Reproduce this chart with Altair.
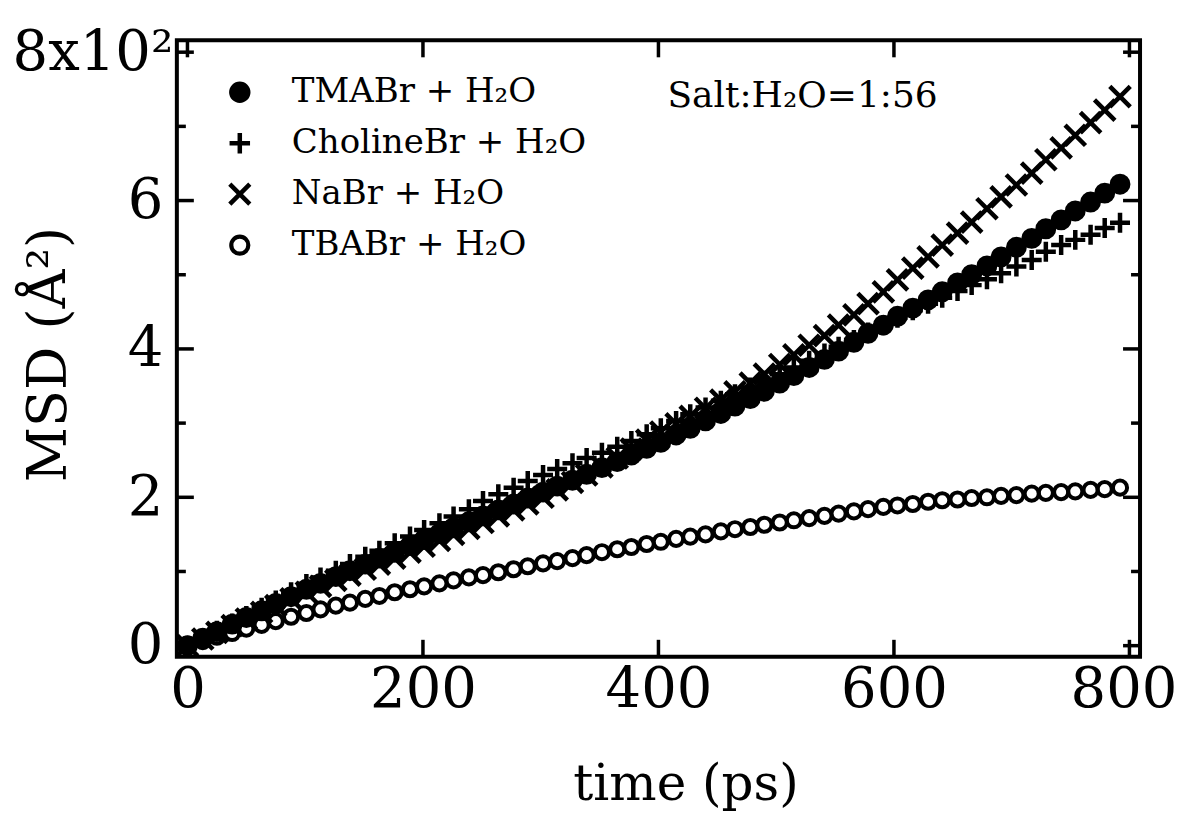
import altair as alt
import pandas as pd

# ---- data (MSD in units of 10^2 Å^2, time in ps) ----
times = [0, 13, 25, 38, 50, 63, 75, 88, 101, 113, 126, 138, 151, 163, 176, 189,
         201, 214, 226, 239, 251, 264, 277, 289, 302, 314, 327, 339, 352, 365, 377, 390,
         402, 415, 427, 440, 453, 465, 478, 490, 503, 515, 528, 541, 553, 566, 578, 591,
         603, 616, 629, 641, 654, 666, 679, 691, 704, 717, 729, 742, 754, 767, 779, 792]

tmabr = [0, 0.10, 0.19, 0.29, 0.38, 0.47, 0.57, 0.66, 0.76, 0.84, 0.93, 1.01, 1.10, 1.18, 1.26, 1.35,
         1.43, 1.51, 1.59, 1.67, 1.75, 1.83, 1.91, 1.99, 2.07, 2.15, 2.23, 2.31, 2.40, 2.48, 2.57, 2.66,
         2.74, 2.84, 2.93, 3.03, 3.13, 3.23, 3.33, 3.43, 3.54, 3.64, 3.75, 3.86, 3.97, 4.09, 4.21, 4.32,
         4.44, 4.55, 4.66, 4.77, 4.89, 5.00, 5.12, 5.24, 5.37, 5.49, 5.62, 5.74, 5.86, 5.98, 6.10, 6.22]

choline = [0, 0.10, 0.20, 0.30, 0.40, 0.51, 0.61, 0.72, 0.83, 0.92, 1.01, 1.10, 1.20, 1.28, 1.38, 1.47,
           1.56, 1.65, 1.74, 1.84, 1.95, 2.04, 2.13, 2.22, 2.30, 2.38, 2.46, 2.53, 2.60, 2.68, 2.76, 2.85,
           2.93, 3.03, 3.12, 3.21, 3.30, 3.39, 3.48, 3.57, 3.66, 3.75, 3.84, 3.94, 4.03, 4.12, 4.22, 4.32,
           4.42, 4.52, 4.61, 4.69, 4.78, 4.86, 4.94, 5.02, 5.11, 5.20, 5.31, 5.40, 5.47, 5.54, 5.63, 5.70]

nabr = [0, 0.09, 0.18, 0.27, 0.36, 0.45, 0.54, 0.63, 0.72, 0.80, 0.88, 0.95, 1.03, 1.10, 1.18, 1.26,
        1.34, 1.42, 1.50, 1.58, 1.66, 1.75, 1.83, 1.91, 2.00, 2.10, 2.20, 2.30, 2.41, 2.53, 2.65, 2.77,
        2.88, 2.99, 3.09, 3.20, 3.31, 3.42, 3.54, 3.66, 3.79, 3.92, 4.05, 4.18, 4.32, 4.46, 4.61, 4.77,
        4.93, 5.09, 5.24, 5.40, 5.56, 5.71, 5.89, 6.05, 6.21, 6.37, 6.55, 6.71, 6.88, 7.05, 7.22, 7.40]

tbabr = [0, 0.06, 0.12, 0.17, 0.23, 0.28, 0.33, 0.39, 0.44, 0.49, 0.54, 0.58, 0.63, 0.67, 0.72, 0.76,
         0.80, 0.84, 0.88, 0.92, 0.95, 0.99, 1.03, 1.07, 1.11, 1.14, 1.18, 1.22, 1.26, 1.30, 1.33, 1.37,
         1.40, 1.44, 1.47, 1.50, 1.54, 1.57, 1.60, 1.63, 1.66, 1.69, 1.72, 1.75, 1.78, 1.81, 1.84, 1.87,
         1.89, 1.91, 1.94, 1.96, 1.97, 1.99, 2.00, 2.02, 2.03, 2.05, 2.06, 2.07, 2.08, 2.10, 2.11, 2.13]

series_names = ["TMABr + H₂O", "CholineBr + H₂O", "NaBr + H₂O", "TBABr + H₂O"]
series_values = [tmabr, choline, nabr, tbabr]

x_ticks = [0, 200, 400, 600, 800]
y_major = [0, 2, 4, 6, 8]
y_minor = [1, 3, 5, 7]
note = "Salt:H₂O=1:56"

W, H = 964, 617
FONT = "DejaVu Serif"

sx = alt.Scale(domain=[-9, 809], nice=False, zero=False)
sy = alt.Scale(domain=[-0.15, 8.16], nice=False, zero=False)

ax_x = alt.Axis(values=x_ticks, ticks=False, domain=False, grid=False,
                labelFont=FONT, labelFontSize=56, labelColor="black", labelPadding=6,
                labelFlush=False, labelOverlap=False,
                labelOffset={"condition": {"test": "datum.value == 800", "value": -6}, "value": 0},
                title="time (ps)", titleFont=FONT, titleFontSize=50, titleFontWeight="normal",
                titleColor="black", titleX=509, titleY=128, titleBaseline="middle",
                titleAlign="center")
ax_y = alt.Axis(values=y_major, ticks=False, domain=False, grid=False,
                labelFont=FONT, labelFontSize=56, labelColor="black",
                labelPadding={"condition": {"test": "datum.value == 8", "value": 4}, "value": 14},
                labelFlush=False, labelOverlap=False,
                labelExpr="datum.value == 8 ? '8x10²' : datum.label",
                title="MSD (Å²)", titleFont=FONT, titleFontSize=54, titleFontWeight="normal",
                titleColor="black", titleX=-127, titleY=314, titleAngle=-90,
                titleBaseline="middle", titleAlign="center")

X = alt.X("time:Q", scale=sx, axis=ax_x)
Y = alt.Y("msd:Q", scale=sy, axis=ax_y)

cross_path = "M-1,-1L1,1M-1,1L1,-1"
plus_path = "M-1,0L1,0M0,-1L0,1"

# marker style per series: shape, fill, size on plot, stroke width, size in legend, legend stroke
styles = [
    ("circle", "black", 320, 3.0, 340, 3.0),
    (plus_path, "transparent", 400, 4.5, 420, 4.5),
    (cross_path, "transparent", 420, 4.5, 400, 4.5),
    ("circle", "transparent", 200, 4.0, 290, 4.2),
]

layers_pts = []
legend_layers = []
for i, (name, vals, st) in enumerate(zip(series_names, series_values, styles)):
    shape, fill, sz, sw, lsz, lsw = st
    d = pd.DataFrame({"time": times, "msd": vals, "series": [name] * len(times)})
    layers_pts.append(
        alt.Chart(d).mark_point(shape=shape, fill=fill, stroke="black", strokeWidth=sw,
                                size=sz, opacity=1, fillOpacity=1).encode(x=X, y=Y)
    )
    row_y = 52 + i * 51
    ld = pd.DataFrame({"series": [name]})
    legend_layers.append(
        alt.Chart(ld).mark_point(shape=shape, fill=fill, stroke="black", strokeWidth=lsw,
                                 size=lsz, opacity=1, fillOpacity=1)
        .encode(x=alt.value(63), y=alt.value(row_y))
    )
    legend_layers.append(
        alt.Chart(ld).mark_text(font=FONT, fontSize=34, color="black", align="left",
                                baseline="middle")
        .encode(text="series:N", x=alt.value(115), y=alt.value(row_y))
    )

xt = pd.DataFrame({"time": x_ticks})
ymaj = pd.DataFrame({"msd": y_major})
ymin = pd.DataFrame({"msd": y_minor})

tick_style = dict(color="black", strokeWidth=3.5)
t_bottom = alt.Chart(xt).mark_rule(**tick_style).encode(x=X, y=alt.value(H), y2=alt.value(H - 17))
t_top = alt.Chart(xt).mark_rule(**tick_style).encode(x=X, y=alt.value(0), y2=alt.value(17))
t_left_maj = alt.Chart(ymaj).mark_rule(**tick_style).encode(y=Y, x=alt.value(0), x2=alt.value(17))
t_right_maj = alt.Chart(ymaj).mark_rule(**tick_style).encode(y=Y, x=alt.value(W), x2=alt.value(W - 17))
t_left_min = alt.Chart(ymin).mark_rule(**tick_style).encode(y=Y, x=alt.value(0), x2=alt.value(9))
t_right_min = alt.Chart(ymin).mark_rule(**tick_style).encode(y=Y, x=alt.value(W), x2=alt.value(W - 9))

note_layer = alt.Chart(pd.DataFrame({"label": [note]})).mark_text(
    font=FONT, fontSize=36, color="black", align="left", baseline="middle"
).encode(text="label:N", x=alt.value(491), y=alt.value(56))

chart = alt.layer(
    t_bottom, t_top, t_left_maj, t_right_maj, t_left_min, t_right_min,
    *layers_pts, *legend_layers, note_layer
).properties(
    width=W, height=H,
    autosize=alt.AutoSizeParams(type="none"),
    padding={"left": 169, "top": 32, "right": 40, "bottom": 160},
).configure(
    font=FONT, background="white"
).configure_view(
    stroke="black", strokeWidth=4
)

chart.save("out.html", embed_options={"renderer": "svg", "actions": False})
